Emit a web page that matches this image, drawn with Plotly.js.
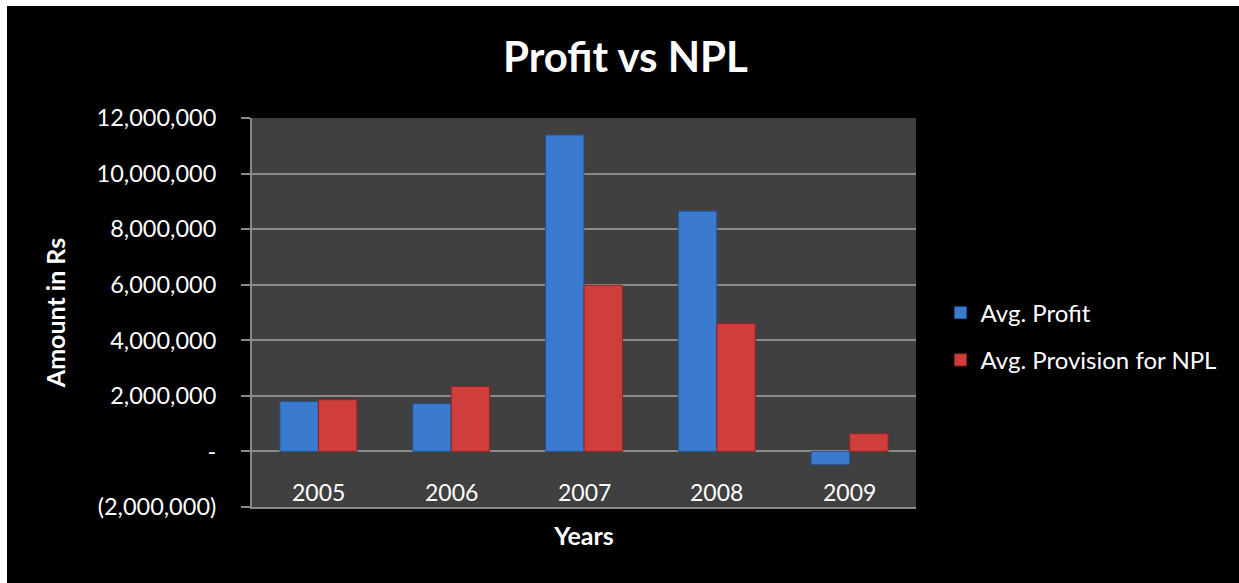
<!DOCTYPE html>
<html>
<head>
<meta charset="utf-8">
<script src="https://cdn.plot.ly/plotly-3.0.1.min.js"></script>
<style>
html,body{margin:0;padding:0;background:#ffffff;width:1239px;height:583px;overflow:hidden;}
#chart{position:absolute;left:7px;top:6px;width:1232px;height:577px;}
</style>
</head>
<body>
<div id="chart"></div>
<script>
const years = ['2005', '2006', '2007', '2008', '2009'];
const avgProfit = [1800000, 1720000, 11390000, 8650000, -480000];
const avgProvision = [1860000, 2340000, 5980000, 4610000, 640000];
const yTickVals = [-2000000, 0, 2000000, 4000000, 6000000, 8000000, 10000000, 12000000];
const yTickText = ['(2,000,000)', '-', '2,000,000', '4,000,000', '6,000,000', '8,000,000', '10,000,000', '12,000,000'];

const FONT = 'Lato, "Open Sans", sans-serif';

const traces = [
  {
    type: 'bar', name: 'Avg. Profit', x: years, y: avgProfit,
    legendgroup: 'a',
    marker: {color: '#3b7bcf', line: {color: '#24508c', width: 1}},
    hoverinfo: 'x+y'
  },
  {
    type: 'bar', name: 'Avg. Provision for NPL', x: years, y: avgProvision,
    legendgroup: 'b',
    marker: {color: '#cf3d3d', line: {color: '#8c2424', width: 1}},
    hoverinfo: 'x+y'
  }
];

// category labels drawn inside the plot area, just above the bottom axis line
// (x is the category index on the category axis)
const yearLabels = years.map(function (yr, i) {
  return {
    x: i, xref: 'x', y: 0, yref: 'paper',
    yanchor: 'bottom', yshift: -1, showarrow: false,
    text: yr, font: {family: FONT, size: 23, color: '#ffffff'}
  };
});

const layout = {
  width: 1232, height: 577,
  paper_bgcolor: '#000000',
  plot_bgcolor: '#404040',
  margin: {l: 245, r: 323, t: 112, b: 76},
  barmode: 'group', bargap: 0.42, bargroupgap: 0,
  font: {family: FONT, color: '#ffffff', size: 23},
  title: {
    text: '<b>Profit vs NPL</b>',
    font: {family: FONT, size: 42, color: '#ffffff'},
    x: 0.502, xanchor: 'center', y: 1 - 51/577, yanchor: 'middle', yref: 'container'
  },
  showlegend: true,
  legend: {
    x: 1.037, xanchor: 'left', y: 0.438, yanchor: 'middle',
    bgcolor: 'rgba(0,0,0,0)', font: {family: FONT, size: 24, color: '#ffffff'},
    traceorder: 'grouped', tracegroupgap: 13, itemwidth: 30
  },
  annotations: yearLabels,
  xaxis: {
    type: 'category',
    categoryarray: years, categoryorder: 'array',
    range: [-0.5, years.length - 0.5],
    showgrid: false, zeroline: false,
    showline: true, linecolor: '#8a8a8a', linewidth: 2,
    ticks: '', showticklabels: false,
    title: {text: '<b>Years</b>', font: {family: FONT, size: 25, color: '#ffffff'}, standoff: 19}
  },
  yaxis: {
    range: [-2000200, 12000000],
    tickvals: yTickVals, ticktext: yTickText,
    showgrid: true, gridcolor: '#8a8a8a', gridwidth: 2,
    zeroline: false,
    showline: true, linecolor: '#8a8a8a', linewidth: 2,
    ticks: 'outside', ticklen: 9, tickcolor: '#8a8a8a', tickwidth: 2,
    ticklabelstandoff: 20,
    tickfont: {family: FONT, size: 23.5, color: '#ffffff'},
    title: {text: '<b>Amount in Rs</b>', font: {family: FONT, size: 25, color: '#ffffff'}, standoff: 24}
  }
};

Plotly.newPlot('chart', traces, layout, {displayModeBar: false, staticPlot: true});
</script>
</body>
</html>
